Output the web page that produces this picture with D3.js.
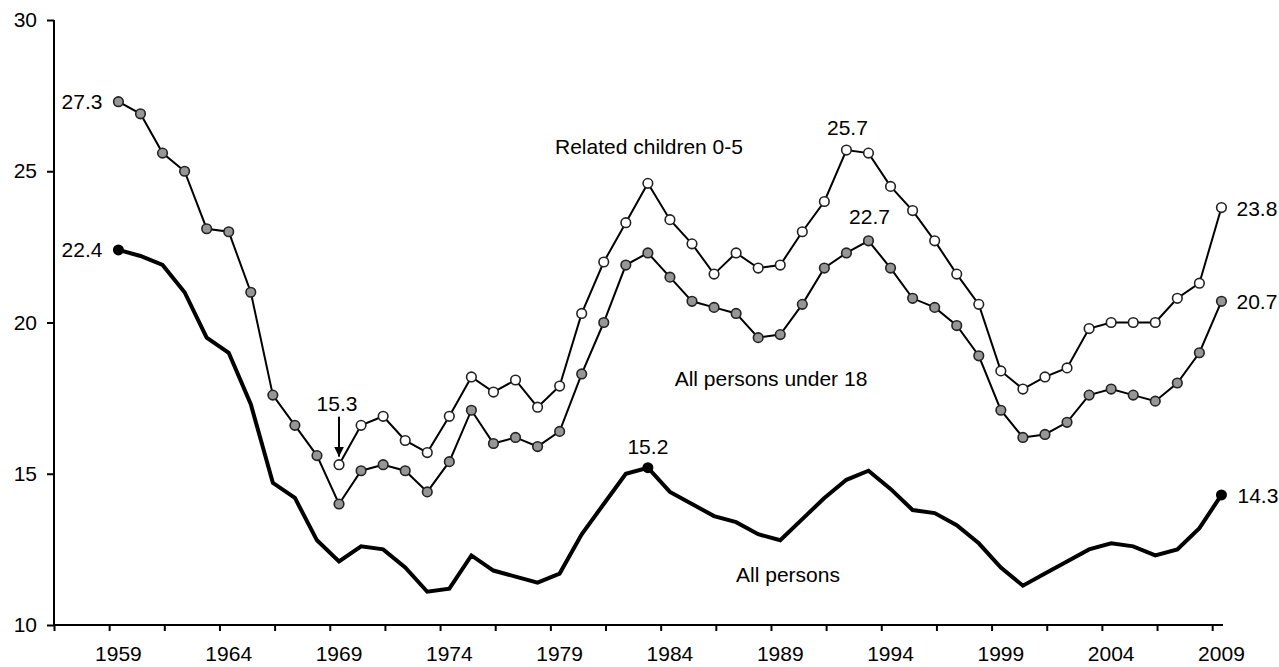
<!DOCTYPE html>
<html>
<head>
<meta charset="utf-8">
<script src="https://cdn.jsdelivr.net/npm/d3@7"></script>
<style>
  body { margin: 0; background: #fff; }
  text { font-family: "Liberation Sans", Arial, sans-serif; font-size: 21px; fill: #000; }
</style>
</head>
<body>
<script>
const width = 1279;
const height = 667;

// data (poverty rates, percent)
const years = d3.range(1959, 2010);
const under18 = [27.3, 26.9, 25.6, 25.0, 23.1, 23.0, 21.0, 17.6, 16.6, 15.6,
                 14.0, 15.1, 15.3, 15.1, 14.4, 15.4, 17.1, 16.0, 16.2, 15.9,
                 16.4, 18.3, 20.0, 21.9, 22.3, 21.5, 20.7, 20.5, 20.3, 19.5,
                 19.6, 20.6, 21.8, 22.3, 22.7, 21.8, 20.8, 20.5, 19.9, 18.9,
                 17.1, 16.2, 16.3, 16.7, 17.6, 17.8, 17.6, 17.4, 18.0, 19.0, 20.7];
const childYears = d3.range(1969, 2010);
const children05 = [15.3, 16.6, 16.9, 16.1, 15.7, 16.9, 18.2, 17.7, 18.1, 17.2,
                    17.9, 20.3, 22.0, 23.3, 24.6, 23.4, 22.6, 21.6, 22.3, 21.8,
                    21.9, 23.0, 24.0, 25.7, 25.6, 24.5, 23.7, 22.7, 21.6, 20.6,
                    18.4, 17.8, 18.2, 18.5, 19.8, 20.0, 20.0, 20.0, 20.8, 21.3, 23.8];
const allPersons = [22.4, 22.2, 21.9, 21.0, 19.5, 19.0, 17.3, 14.7, 14.2, 12.8,
                    12.1, 12.6, 12.5, 11.9, 11.1, 11.2, 12.3, 11.8, 11.6, 11.4,
                    11.7, 13.0, 14.0, 15.0, 15.2, 14.4, 14.0, 13.6, 13.4, 13.0,
                    12.8, 13.5, 14.2, 14.8, 15.1, 14.5, 13.8, 13.7, 13.3, 12.7,
                    11.9, 11.3, 11.7, 12.1, 12.5, 12.7, 12.6, 12.3, 12.5, 13.2, 14.3];
const yTicks = [10, 15, 20, 25, 30];
const xLabels = [1959, 1964, 1969, 1974, 1979, 1984, 1989, 1994, 1999, 2004, 2009];

const svg = d3.select("body").append("svg")
  .attr("width", width)
  .attr("height", height);

const x = d3.scaleLinear().domain([1956.08, 2009.07]).range([54, 1223]);
const y = d3.scaleLinear().domain([10, 30]).range([625, 20]);

// arrow head
svg.append("defs").append("marker")
  .attr("id", "arrow")
  .attr("viewBox", "0 0 10 10")
  .attr("refX", 10).attr("refY", 5)
  .attr("markerWidth", 5).attr("markerHeight", 5)
  .attr("orient", "auto")
  .append("path")
  .attr("d", "M0,0 L10,5 L0,10 z")
  .attr("fill", "#000");

// y axis
const yAxis = svg.append("g")
  .attr("transform", "translate(54,0)")
  .call(d3.axisLeft(y).tickValues(yTicks).tickSize(7).tickPadding(10).tickFormat(d3.format("d")));
yAxis.select(".domain").attr("stroke-width", 2).attr("d", "M0,20V625");
yAxis.selectAll(".tick line").attr("stroke-width", 2);
yAxis.selectAll(".tick text").style("font-size", "21px").attr("font-family", null);

// x axis: tick marks between labels, labels at the data years
const xTickVals = d3.range(1956.08, 2009, 2.5);
const xAxis = svg.append("g")
  .attr("transform", "translate(0,625)")
  .call(d3.axisBottom(x).tickValues(xTickVals).tickSize(6).tickFormat(""));
xAxis.select(".domain").attr("stroke-width", 2).attr("d", "M54,0H1223");
xAxis.selectAll(".tick line").attr("stroke-width", 2);

svg.append("g")
  .selectAll("text")
  .data(xLabels)
  .enter()
  .append("text")
  .attr("x", d => x(d))
  .attr("y", 661)
  .attr("text-anchor", "middle")
  .text(d => d);

// lines
const line = d3.line().x(d => x(d[0])).y(d => y(d[1]));

const u18 = years.map((yr, i) => [yr, under18[i]]);
const c05 = childYears.map((yr, i) => [yr, children05[i]]);
const all = years.map((yr, i) => [yr, allPersons[i]]);

svg.append("path").datum(all)
  .attr("d", line).attr("fill", "none")
  .attr("stroke", "#000").attr("stroke-width", 4).attr("stroke-linejoin", "miter");

svg.append("path").datum(c05)
  .attr("d", line).attr("fill", "none")
  .attr("stroke", "#000").attr("stroke-width", 2);

svg.append("path").datum(u18)
  .attr("d", line).attr("fill", "none")
  .attr("stroke", "#000").attr("stroke-width", 2);

svg.append("g")
  .selectAll("circle")
  .data(c05)
  .enter()
  .append("circle")
  .attr("cx", d => x(d[0])).attr("cy", d => y(d[1])).attr("r", 4.8)
  .attr("fill", "#fff").attr("stroke", "#222").attr("stroke-width", 1.6);

svg.append("g")
  .selectAll("circle")
  .data(u18)
  .enter()
  .append("circle")
  .attr("cx", d => x(d[0])).attr("cy", d => y(d[1])).attr("r", 4.8)
  .attr("fill", "#969696").attr("stroke", "#222").attr("stroke-width", 1.6);

// highlighted points of all persons
const allMarks = all.filter(d => d[0] === 1959 || d[0] === 1983 || d[0] === 2009);
svg.append("g")
  .selectAll("circle")
  .data(allMarks)
  .enter()
  .append("circle")
  .attr("cx", d => x(d[0])).attr("cy", d => y(d[1])).attr("r", 5.5)
  .attr("fill", "#000");

// value labels
const fmt = d3.format(".1f");
const valueLabels = [
  {yr: 1959, v: under18[0], dx: -16, dy: 7, anchor: "end"},
  {yr: 1959, v: allPersons[0], dx: -16, dy: 7, anchor: "end"},
  {yr: 1992, v: children05[1992 - 1969], dx: 1, dy: -15, anchor: "middle"},
  {yr: 1993, v: under18[1993 - 1959], dx: 1, dy: -17, anchor: "middle"},
  {yr: 2009, v: children05[children05.length - 1], dx: 15, dy: 8, anchor: "start"},
  {yr: 2009, v: under18[under18.length - 1], dx: 15, dy: 8, anchor: "start"},
  {yr: 2009, v: allPersons[allPersons.length - 1], dx: 16, dy: 8, anchor: "start"},
  {yr: 1983, v: allPersons[1983 - 1959], dx: 0, dy: -14, anchor: "middle"},
  {yr: 1969, v: children05[0], dx: -2, dy: -54, anchor: "middle"}
];
svg.append("g")
  .selectAll("text")
  .data(valueLabels)
  .enter()
  .append("text")
  .attr("x", d => x(d.yr) + d.dx)
  .attr("y", d => y(d.v) + d.dy)
  .attr("text-anchor", d => d.anchor)
  .text(d => fmt(d.v));

// arrow to the 1969 point
svg.append("line")
  .attr("x1", x(1969)).attr("x2", x(1969))
  .attr("y1", y(children05[0]) - 48).attr("y2", y(children05[0]) - 8)
  .attr("stroke", "#000").attr("stroke-width", 2)
  .attr("marker-end", "url(#arrow)");

// series labels
svg.append("text").attr("x", 555).attr("y", 154).text("Related children 0-5");
svg.append("text").attr("x", 771).attr("y", 386).attr("text-anchor", "middle").text("All persons under 18");
svg.append("text").attr("x", 788).attr("y", 582).attr("text-anchor", "middle").text("All persons");
</script>
</body>
</html>
